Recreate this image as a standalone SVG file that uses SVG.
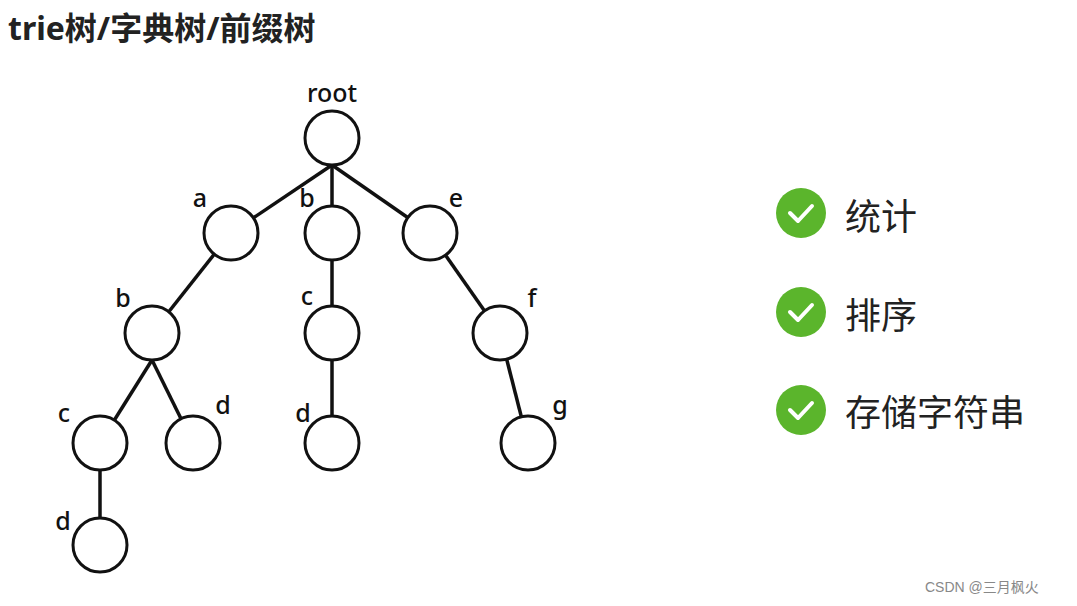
<svg xmlns="http://www.w3.org/2000/svg" width="1077" height="606" viewBox="0 0 1077 606">
<style>
.n{fill:#fff;stroke:#111;stroke-width:3}
.e{stroke:#111;stroke-width:3.5;fill:none}
.l{font-family:"Noto Sans","Liberation Sans",sans-serif;font-size:25px;font-weight:500;fill:#111}
.t{font-family:"Noto Sans","Noto Sans CJK SC",sans-serif;font-size:36px;fill:#222}
.ck{fill:#5bb52c}
.cm{stroke:#fff;stroke-width:4;fill:none;stroke-linecap:round;stroke-linejoin:round}
</style>
<rect width="1077" height="606" fill="#fff"/>
<text x="8" y="40" style="font-family:'Noto Sans','Noto Sans CJK SC',sans-serif;font-size:32px;font-weight:bold;fill:#222">trie树/字典树/前缀树</text>
<g id="connectors">
<line class="e" x1="332" y1="165" x2="231" y2="233"/>
<line class="e" x1="332" y1="165" x2="332" y2="233"/>
<line class="e" x1="332" y1="165" x2="430" y2="233"/>
<line class="e" x1="231" y1="233" x2="152" y2="333"/>
<line class="e" x1="332" y1="233" x2="332" y2="443"/>
<line class="e" x1="430" y1="233" x2="500" y2="333"/>
<line class="e" x1="152" y1="360" x2="100" y2="443"/>
<line class="e" x1="152" y1="360" x2="193" y2="443"/>
<line class="e" x1="100" y1="443" x2="100" y2="545"/>
<line class="e" x1="500" y1="333" x2="528" y2="443"/>
</g>
<g id="root"><circle class="n" cx="332" cy="138" r="27"/><text class="l" x="332" y="102" text-anchor="middle">root</text></g>
<g id="a"><circle class="n" cx="231" cy="233" r="27"/><text class="l" x="200" y="207" text-anchor="middle">a</text></g>
<g id="b1"><circle class="n" cx="332" cy="233" r="27"/><text class="l" x="307" y="207" text-anchor="middle">b</text></g>
<g id="e"><circle class="n" cx="430" cy="233" r="27"/><text class="l" x="456" y="207" text-anchor="middle">e</text></g>
<g id="b2"><circle class="n" cx="152" cy="333" r="27"/><text class="l" x="123" y="307" text-anchor="middle">b</text></g>
<g id="c1"><circle class="n" cx="332" cy="333" r="27"/><text class="l" x="307" y="305" text-anchor="middle">c</text></g>
<g id="f"><circle class="n" cx="500" cy="333" r="27"/><text class="l" x="532" y="307" text-anchor="middle">f</text></g>
<g id="c2"><circle class="n" cx="100" cy="443" r="27"/><text class="l" x="64" y="422" text-anchor="middle">c</text></g>
<g id="d1"><circle class="n" cx="193" cy="443" r="27"/><text class="l" x="223" y="414" text-anchor="middle">d</text></g>
<g id="d2"><circle class="n" cx="332" cy="443" r="27"/><text class="l" x="303" y="422" text-anchor="middle">d</text></g>
<g id="g"><circle class="n" cx="528" cy="443" r="27"/><text class="l" x="560" y="414" text-anchor="middle">g</text></g>
<g id="d3"><circle class="n" cx="100" cy="545" r="27"/><text class="l" x="63" y="530" text-anchor="middle">d</text></g>
<g id="item1"><circle class="ck" cx="801" cy="213" r="25"/><path class="cm" d="M790 213 L798 221 L812 206"/><text class="t" x="845" y="230">统计</text></g>
<g id="item2"><circle class="ck" cx="801" cy="312" r="25"/><path class="cm" d="M790 312 L798 320 L812 305"/><text class="t" x="845" y="329">排序</text></g>
<g id="item3"><circle class="ck" cx="801" cy="410" r="25"/><path class="cm" d="M790 410 L798 418 L812 403"/><text class="t" x="845" y="426">存储字符串</text></g>
<text x="925" y="592" style="font-family:'Liberation Sans','Noto Sans CJK SC',sans-serif;font-size:14px;fill:#888">CSDN @三月枫火</text>
</svg>
